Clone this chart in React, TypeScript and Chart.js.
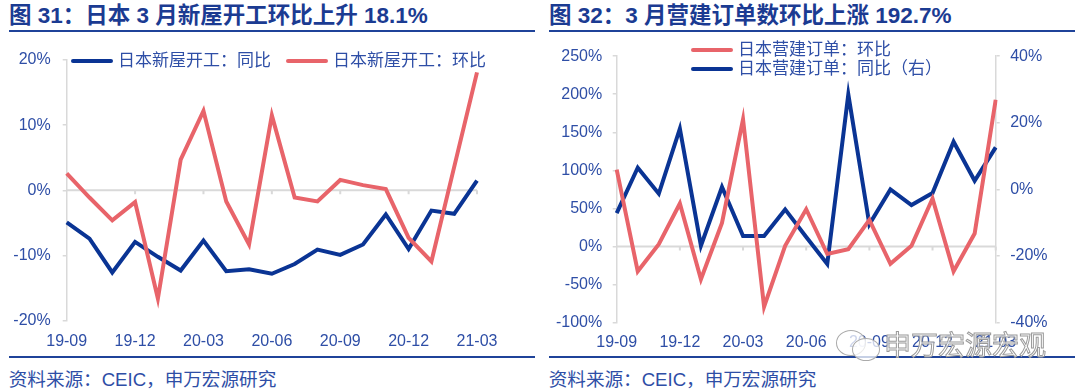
import React, { useEffect, useRef } from "react";
import { Chart, registerables } from "chart.js";

Chart.register(...registerables);

const months = [
  "19-09", "19-10", "19-11", "19-12", "20-01", "20-02", "20-03", "20-04", "20-05", "20-06",
  "20-07", "20-08", "20-09", "20-10", "20-11", "20-12", "21-01", "21-02", "21-03",
];

// Chart 31: housing starts
const startsYoY = [-4.9, -7.4, -12.6, -7.9, -10.2, -12.3, -7.7, -12.4, -12.1, -12.8, -11.3, -9.1, -9.9, -8.3, -3.7, -9.0, -3.1, -3.6, 1.5];
const startsMoM = [2.6, -1.1, -4.6, -1.8, -16.6, 4.7, 12.2, -1.7, -8.3, 11.5, -1.1, -1.7, 1.6, 0.8, 0.2, -7.3, -10.9, 3.6, 18.1];

// Chart 32: construction orders
const ordersMoM = [101, -32.5, 3, 56.5, -43, 31, 167, -79, 1, 49, -9.8, -3.4, 35, -22.7, 1, 63, -32.5, 17, 192.7];
const ordersYoY = [-7.1, 6.5, -1.3, 18.2, -16.9, 0.7, -14, -14, -6, -14.3, -22.4, 28.5, -10.5, 0, -4.7, -1.1, 14.3, 2.6, 12.6];

const leftTitle = "图 31：日本 3 月新屋开工环比上升 18.1%";
const rightTitle = "图 32：3 月营建订单数环比上涨 192.7%";
const source = "资料来源：CEIC，申万宏源研究";
const leftLegend = ["日本新屋开工：同比", "日本新屋开工：环比"];
const rightLegend = ["日本营建订单：环比", "日本营建订单：同比（右）"];

const RED = "#E8646A";
const BLUE = "#0A3494";
const TICK = "#2E4EA6";
const TITLE = "#1B3B92";
const GRAY = "#d9d9d9";
const FONT = '"Liberation Sans", "Noto Sans CJK SC", sans-serif';

const zeroLine = {
  id: "zeroLine",
  beforeDatasetsDraw(chart: any, _args: any, opts: any) {
    const { ctx, chartArea, scales } = chart;
    const y = scales[opts.axis].getPixelForValue(0);
    ctx.save();
    ctx.strokeStyle = GRAY;
    ctx.lineWidth = 2;
    ctx.beginPath();
    ctx.moveTo(chartArea.left, y);
    ctx.lineTo(chartArea.right, y);
    for (let i = 3; i < months.length; i += 3) {
      const x = scales.x.getPixelForValue(i);
      ctx.moveTo(x, y);
      ctx.lineTo(x, y + 4);
    }
    ctx.stroke();
    ctx.restore();
  },
};

const tickFont = { family: FONT, size: 16 };

function xAxis(h: number, pad: number) {
  return {
    type: "category" as const,
    grid: { display: false },
    border: { display: false },
    ticks: {
      autoSkip: false,
      maxRotation: 0,
      padding: pad,
      color: TICK,
      font: tickFont,
      callback: (_v: any, i: number) => (i % 3 === 0 ? months[i] : ""),
    },
    afterFit: (s: any) => {
      s.height = h;
    },
  };
}

function yAxis(pos: "left" | "right", min: number, max: number, step: number, w: number, pad: number) {
  return {
    position: pos,
    min,
    max,
    grid: { drawOnChartArea: false, drawTicks: true, tickLength: 4, color: GRAY, lineWidth: 1.5 },
    border: { display: true, color: GRAY, width: 1.5 },
    ticks: {
      stepSize: step,
      padding: pad,
      color: TICK,
      font: tickFont,
      callback: (v: any) => `${v}%`,
    },
    afterFit: (s: any) => {
      s.width = w;
    },
  };
}

const LW = 4;

function LeftChart() {
  const ref = useRef<HTMLCanvasElement>(null);
  useEffect(() => {
    const chart = new Chart(ref.current!, {
      type: "line",
      data: {
        labels: months,
        datasets: [
          { label: leftLegend[1], data: startsMoM, borderColor: RED, backgroundColor: RED, borderWidth: LW, pointRadius: 0, tension: 0 },
          { label: leftLegend[0], data: startsYoY, borderColor: BLUE, backgroundColor: BLUE, borderWidth: LW, pointRadius: 0, tension: 0 },
        ],
      },
      options: {
        animation: false,
        responsive: false,
        layout: { padding: { left: 0, right: 58, top: 24, bottom: 0 } },
        plugins: { legend: { display: false }, tooltip: { enabled: false }, zeroLine: { axis: "y" } } as any,
        scales: {
          x: xAxis(35.3, 3),
          y: yAxis("left", -20, 20, 10, 58.7, 12),
        } as any,
      },
      plugins: [zeroLine],
    });
    return () => chart.destroy();
  }, []);
  return <canvas ref={ref} width={527} height={320} style={{ position: "absolute", left: 8, top: 36, width: 527, height: 320 }} />;
}

function RightChart() {
  const ref = useRef<HTMLCanvasElement>(null);
  useEffect(() => {
    const chart = new Chart(ref.current!, {
      type: "line",
      data: {
        labels: months,
        datasets: [
          { label: rightLegend[0], data: ordersMoM, yAxisID: "y", borderColor: RED, backgroundColor: RED, borderWidth: LW, pointRadius: 0, tension: 0 },
          { label: rightLegend[1], data: ordersYoY, yAxisID: "y1", borderColor: BLUE, backgroundColor: BLUE, borderWidth: LW, pointRadius: 0, tension: 0 },
        ],
      },
      options: {
        animation: false,
        responsive: false,
        layout: { padding: { left: 0, right: 0, top: 13.5, bottom: 0 } },
        plugins: { legend: { display: false }, tooltip: { enabled: false }, zeroLine: { axis: "y" } } as any,
        scales: {
          x: xAxis(33.3, 2),
          y: yAxis("left", -100, 250, 50, 68.7, 10.5),
          y1: yAxis("right", -40, 40, 20, 79.3, 10.5),
        } as any,
      },
      plugins: [zeroLine],
    });
    return () => chart.destroy();
  }, []);
  return <canvas ref={ref} width={527} height={320} style={{ position: "absolute", left: 548, top: 36, width: 527, height: 320 }} />;
}

function abs(left: number, top: number, extra: React.CSSProperties = {}): React.CSSProperties {
  return { position: "absolute", left, top, ...extra };
}

function LegendItem({ x, y, color, text }: { x: number; y: number; color: string; text: string }) {
  return (
    <>
      <div style={abs(x, y - 2, { width: 42, height: 4, background: color, borderRadius: 2 })} />
      <div style={abs(x + 47, y - 11, { font: `17px ${FONT}`, color: TICK, lineHeight: "22px", whiteSpace: "nowrap" })}>{text}</div>
    </>
  );
}

export default function App() {
  const titleStyle = (x: number): React.CSSProperties =>
    abs(x, 4, { font: `bold 22.5px ${FONT}`, color: TITLE, lineHeight: "24px", whiteSpace: "nowrap" });
  const rule = (x: number, y: number): React.CSSProperties => abs(x, y, { width: 526, height: 2, background: "#1F4399" });
  const srcStyle = (x: number): React.CSSProperties =>
    abs(x, 369, { font: `18.6px ${FONT}`, color: TICK, lineHeight: "22px", whiteSpace: "nowrap" });
  return (
    <div style={{ position: "fixed", left: 0, top: 0, width: 1080, height: 392, background: "#fff", overflow: "hidden" }}>
      <div style={titleStyle(9)}>{leftTitle}</div>
      <div style={titleStyle(549)}>{rightTitle}</div>
      <div style={rule(8.7, 30)} />
      <div style={rule(548.7, 30)} />
      <LeftChart />
      <RightChart />
      <LegendItem x={71} y={61} color={BLUE} text={leftLegend[0]} />
      <LegendItem x={286} y={61} color={RED} text={leftLegend[1]} />
      <LegendItem x={691} y={50} color={RED} text={rightLegend[0]} />
      <LegendItem x={691} y={69} color={BLUE} text={rightLegend[1]} />
      <div style={rule(8.7, 356)} />
      <div style={rule(548.7, 356)} />
      <div style={srcStyle(8.7)}>{source}</div>
      <div style={srcStyle(548.7)}>{source}</div>
      {/* watermark */}
      <div style={abs(836, 330, { width: 28, height: 24, borderRadius: "50%", border: "1.5px solid #aaa", background: "rgba(255,255,255,0.75)" })} />
      <div style={abs(852, 338, { width: 26, height: 21, borderRadius: "50%", border: "1.5px solid #aaa", background: "rgba(255,255,255,0.75)" })} />
      <div
        style={abs(884, 328, {
          font: `27px "Noto Sans CJK SC", sans-serif`,
          lineHeight: "32px",
          color: "rgba(255,255,255,0.75)",
          WebkitTextStroke: "1px #9a9a9a",
          whiteSpace: "nowrap",
        } as React.CSSProperties)}
      >
        申万宏源宏观
      </div>
    </div>
  );
}
